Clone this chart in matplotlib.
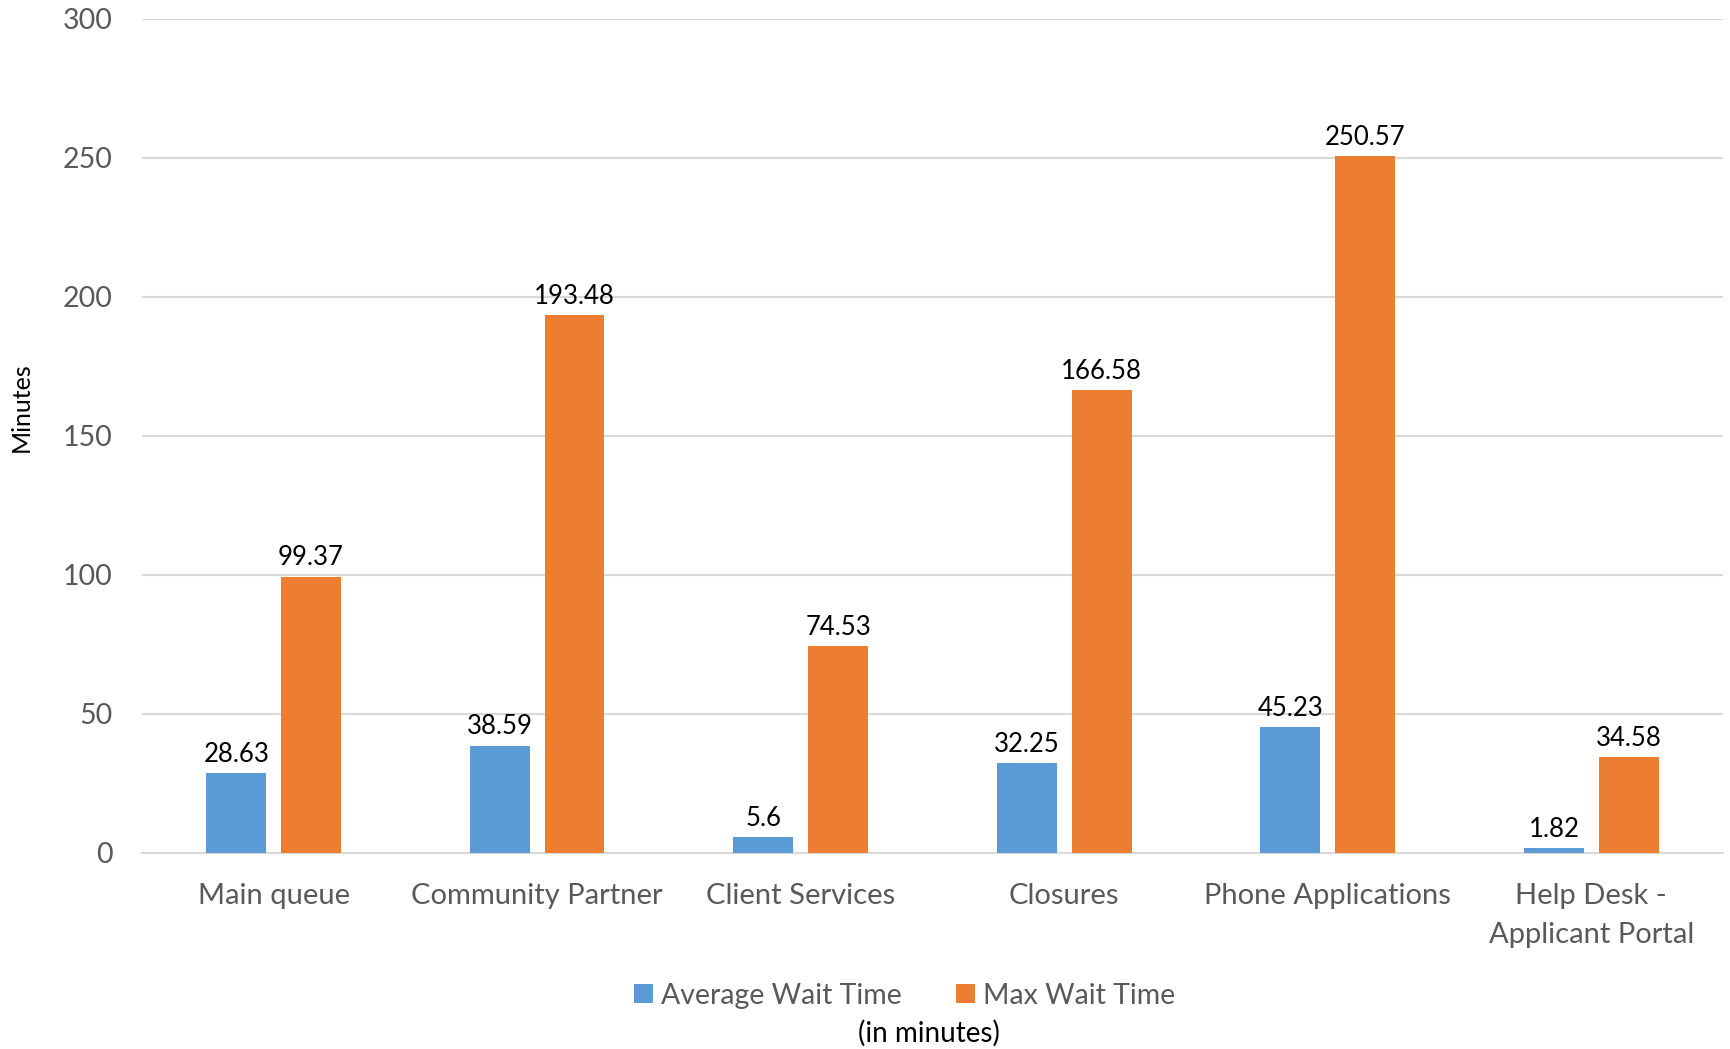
import numpy as np
import matplotlib; matplotlib.use("Agg")
import matplotlib.pyplot as plt

plt.rcParams.update({"font.family": ["Lato", "DejaVu Sans"]})

categorias = ["Main queue", "Community Partner", "Client Services", "Closures",
              "Phone Applications", "Help Desk -\nApplicant Portal"]
media = [28.63, 38.59, 5.6, 32.25, 45.23, 1.82]
maximo = [99.37, 193.48, 74.53, 166.58, 250.57, 34.58]
rotulos_media = ["28.63", "38.59", "5.6", "32.25", "45.23", "1.82"]
rotulos_max = ["99.37", "193.48", "74.53", "166.58", "250.57", "34.58"]

AZUL = "#5b9bd5"
LARANJA = "#ed7d31"
CINZA = "#595959"

fig = plt.figure(figsize=(17.3, 10.49), dpi=100)
ax = fig.add_axes([0.082, 0.187, 0.914, 0.795])

x = np.arange(len(categorias))
larg = 0.227
desl = 0.142
b1 = ax.bar(x - desl, media, larg, color=AZUL, label="Average Wait Time", zorder=3)
b2 = ax.bar(x + desl, maximo, larg, color=LARANJA, label="Max Wait Time", zorder=3)

# valores acima das barras
for xi, v, t in zip(x, media, rotulos_media):
    ax.text(xi - desl, v + 2.2, t, ha="center", va="bottom", fontsize=18.5, color="black")
for xi, v, t in zip(x, maximo, rotulos_max):
    ax.text(xi + desl, v + 2.2, t, ha="center", va="bottom", fontsize=18.5, color="black")

ax.set_xlim(-0.5, len(categorias) - 0.5)
ax.set_ylim(0, 300)
ax.set_yticks(np.arange(0, 301, 50))
ax.yaxis.grid(True, color="#d9d9d9", linewidth=1.5, zorder=0)
ax.set_axisbelow(True)
for s in ["top", "right", "left"]:
    ax.spines[s].set_visible(False)
ax.spines["bottom"].set_color("#d9d9d9")
ax.spines["bottom"].set_linewidth(1.5)
ax.tick_params(axis="y", length=0, pad=21, labelsize=20.5, labelcolor=CINZA)
ax.tick_params(axis="x", length=0, pad=22, labelsize=21, labelcolor=CINZA)
ax.set_xticks(x)
ax.set_xticklabels(categorias, linespacing=1.6)

fig.text(0.012, 0.612, "Minutes", rotation=90, ha="center", va="center", fontsize=18)

fig.legend(handles=[b1, b2], loc="center", bbox_to_anchor=(0.523, 0.051), ncol=2,
           frameon=False, fontsize=20.5, labelcolor=CINZA, handlelength=0.65,
           handleheight=0.65, handletextpad=0.3, columnspacing=1.9)
fig.text(0.537, 0.015, "(in minutes)", ha="center", va="center", fontsize=20)

fig.savefig("out.png", dpi=100)
